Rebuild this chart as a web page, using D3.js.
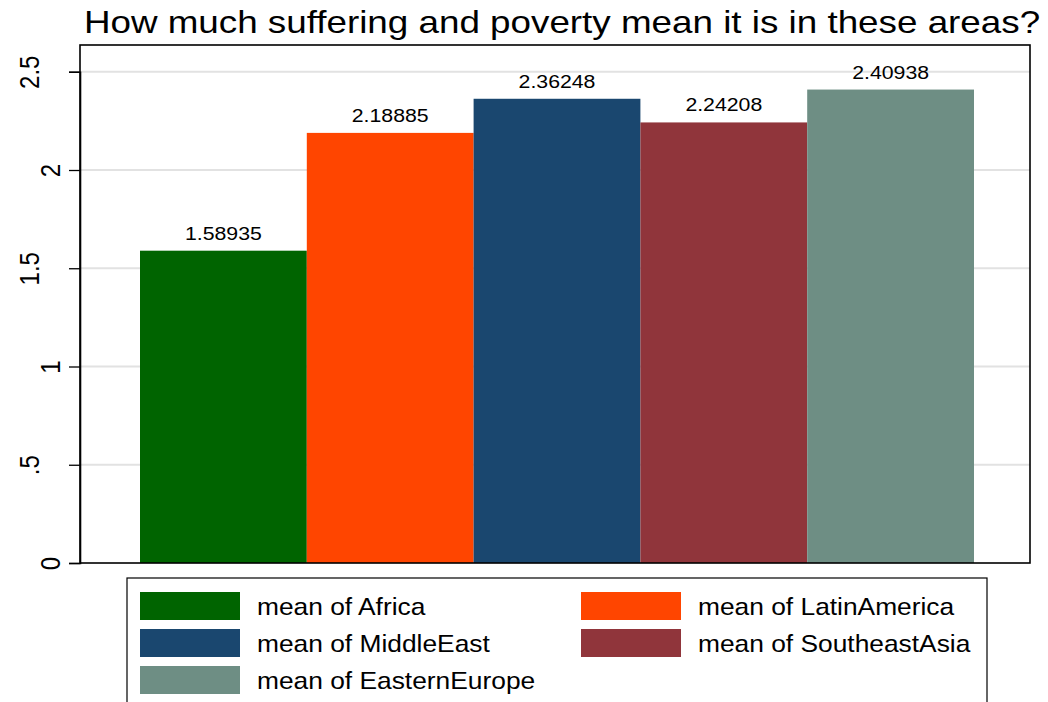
<!DOCTYPE html>
<html><head><meta charset="utf-8">
<script src="https://cdn.jsdelivr.net/npm/d3@7"></script>
<style>body{margin:0;background:#fff}svg{display:block}text{font-family:"Liberation Sans",Arial,sans-serif}</style>
</head><body><svg id="c" width="1048" height="702"></svg>
<script>
const categories = ["Africa","LatinAmerica","MiddleEast","SoutheastAsia","EasternEurope"];
const values = [1.58935, 2.18885, 2.36248, 2.24208, 2.40938];
const valueLabels = ["1.58935","2.18885","2.36248","2.24208","2.40938"];
const colors = ["#006400","#ff4500","#1a476f","#90353b","#6e8e84"];
const yTicks = [0, 0.5, 1, 1.5, 2, 2.5];
const yTickLabels = ["0", ".5", "1", "1.5", "2", "2.5"];
const title = "How much suffering and poverty mean it is in these areas?";

const SX = 1.15; // horizontal stretch of the original export
const svg = d3.select("#c");
const L = 80, R = 1030, T = 45, B = 563;
const y = d3.scaleLinear().domain([0, 2.5]).range([B, B - 2.5*196.5]);
const x = d3.scaleBand().domain(categories).range([140, 974]).paddingInner(0).paddingOuter(0);

svg.append("rect").attr("width",1048).attr("height",702).attr("fill","#fff");
// gridlines
svg.append("g").selectAll("line").data(yTicks.filter(d=>d>0)).join("line")
  .attr("x1",L).attr("x2",R).attr("y1",d=>y(d)).attr("y2",d=>y(d))
  .attr("stroke","#e2e2e2").attr("stroke-width",2);
// bars
svg.append("g").selectAll("rect").data(values).join("rect")
  .attr("x",(d,i)=>x(categories[i])).attr("width",x.bandwidth())
  .attr("y",d=>y(d)).attr("height",d=>B-y(d)).attr("fill",(d,i)=>colors[i]);
// value labels
svg.append("g").selectAll("text").data(values).join("text")
  .attr("transform",(d,i)=>`translate(${x(categories[i])+x.bandwidth()/2},${y(d)-11}) scale(${SX},1)`)
  .attr("text-anchor","middle").attr("font-size",18.5).attr("fill","#000")
  .text((d,i)=>valueLabels[i]);
// frame
svg.append("rect").attr("x",L).attr("y",T).attr("width",R-L).attr("height",B-T)
  .attr("fill","none").attr("stroke","#000").attr("stroke-width",1.6);
// y axis
const ax = d3.axisLeft(y).tickValues(yTicks).tickSize(11).tickPadding(10).tickFormat((d,i)=>yTickLabels[i]);
const g = svg.append("g").attr("transform",`translate(${L},0)`).call(ax);
g.select(".domain").attr("stroke","#000").attr("stroke-width",1.6);
g.selectAll(".tick line").attr("stroke","#000").attr("stroke-width",1.3);
g.selectAll(".tick text").attr("font-size",24).attr("fill","#000")
  .attr("x",null).attr("dy","0.35em").attr("y",0)
  .attr("transform",d=>`translate(${Number.isInteger(d)?-30:-51},0) scale(${SX},1) rotate(-90)`)
  .attr("text-anchor","middle");
// title
svg.append("text").attr("transform",`translate(562,33) scale(${SX},1)`).attr("text-anchor","middle")
  .attr("font-size",32).attr("fill","#000").text(title);
// legend
svg.append("rect").attr("x",127).attr("y",578).attr("width",860).attr("height",130)
  .attr("fill","#fff").attr("stroke","#000").attr("stroke-width",1.2);
const lg = svg.append("g").selectAll("g").data(categories).join("g")
  .attr("transform",(d,i)=>`translate(${i%2===0?140:581},${592+Math.floor(i/2)*37})`);
lg.append("rect").attr("width",100).attr("height",28).attr("fill",(d,i)=>colors[i]);
lg.append("text").attr("transform",`translate(117,${14}) scale(${SX*0.955},1)`).attr("dy","0.38em").attr("font-size",24)
  .attr("fill","#000").text(d=>"mean of "+d);
</script></body></html>
